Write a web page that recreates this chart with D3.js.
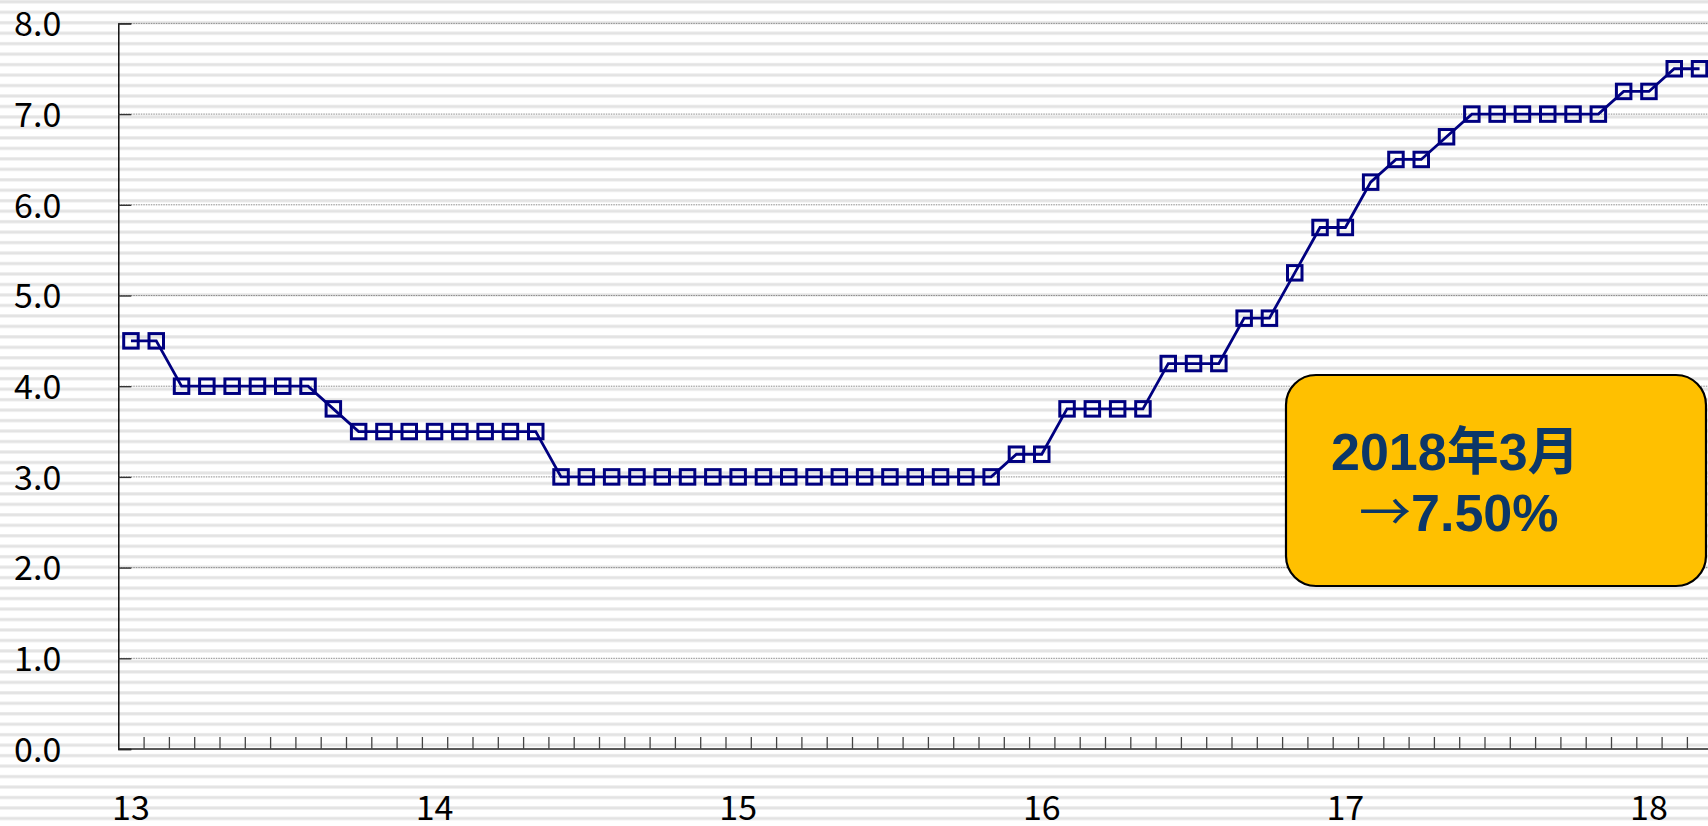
<!DOCTYPE html>
<meta charset="utf-8">
<script src="https://d3js.org/d3.v7.min.js"></script>
<style>
  body { margin: 0; background: #fff; }
</style>
<div id="my_dataviz"></div>
<script>
// monthly categories, Jan 2013 .. Mar 2018
var years = ["2013", "2014", "2015", "2016", "2017", "2018"];
var monthNames = ["01","02","03","04","05","06","07","08","09","10","11","12"];
var months = [];
years.forEach(function(y) { monthNames.forEach(function(m) { months.push(y + "-" + m); }); });
months = months.slice(0, 63);

// policy rate (%) per month
var rates = [
  4.50, 4.50, 4.00, 4.00, 4.00, 4.00, 4.00, 4.00, 3.75, 3.50, 3.50, 3.50,   // 2013
  3.50, 3.50, 3.50, 3.50, 3.50, 3.00, 3.00, 3.00, 3.00, 3.00, 3.00, 3.00,   // 2014
  3.00, 3.00, 3.00, 3.00, 3.00, 3.00, 3.00, 3.00, 3.00, 3.00, 3.00, 3.25,   // 2015
  3.25, 3.75, 3.75, 3.75, 3.75, 4.25, 4.25, 4.25, 4.75, 4.75, 5.25, 5.75,   // 2016
  5.75, 6.25, 6.50, 6.50, 6.75, 7.00, 7.00, 7.00, 7.00, 7.00, 7.00, 7.25,   // 2017
  7.25, 7.50, 7.50                                                         // 2018
];

var yearLabels = ["13", "14", "15", "16", "17", "18"];
var yTicks = [0, 1, 2, 3, 4, 5, 6, 7, 8];
var noteTitle = "2018年3月";
var noteArrow = "→", noteValue = "7.50%";

var width = 1708, height = 826;
var plotLeft = 118.3, plotBottom = 749, plotTop = 23.4, monthW = 25.3;

var svg = d3.select("#my_dataviz")
  .append("svg")
    .attr("width", width)
    .attr("height", height)
    .style("display", "block");

// striped background
var pat = svg.append("defs").append("pattern")
    .attr("id", "stripes")
    .attr("patternUnits", "userSpaceOnUse")
    .attr("width", 20)
    .attr("height", 10.47);
pat.append("rect").attr("width", 20).attr("height", 10.47).attr("fill", "#ffffff");
pat.append("rect").attr("y", 0.3).attr("width", 20).attr("height", 3).attr("fill", "#e3e3e3");

svg.append("rect")
    .attr("width", width)
    .attr("height", height)
    .attr("fill", "url(#stripes)");

// scales
var x = d3.scaleBand()
    .domain(months)
    .range([plotLeft, plotLeft + monthW * months.length])
    .padding(0);
var xi = d3.scaleLinear()
    .domain([0, months.length])
    .range([plotLeft, plotLeft + monthW * months.length]);
var y = d3.scaleLinear()
    .domain([0, 8])
    .range([plotBottom, plotTop]);

// gridlines
svg.append("g")
  .selectAll("line")
  .data(yTicks.filter(function(d) { return d > 0; }))
  .enter()
  .append("line")
    .attr("x1", plotLeft)
    .attr("x2", width)
    .attr("y1", function(d) { return y(d); })
    .attr("y2", function(d) { return y(d); })
    .attr("stroke", "#8a8a8a")
    .attr("stroke-width", 1)
    .attr("stroke-dasharray", "1.5,1");

// y axis (ticks point inward)
var yAxis = svg.append("g")
    .attr("transform", "translate(" + plotLeft + ",0)")
    .call(d3.axisLeft(y).tickValues(yTicks).tickSize(-13).tickPadding(57)
      .tickFormat(d3.format(".1f")));
yAxis.select(".domain").attr("stroke", "#000").attr("stroke-width", 1.4);
yAxis.selectAll(".tick line").attr("stroke", "#333").attr("stroke-width", 1.4);
yAxis.selectAll("text")
    .attr("fill", "#000")
    .style("font-family", "'Noto Sans CJK JP', 'Noto Sans', sans-serif")
    .style("font-size", "34px")
    .attr("dy", "0.36em");

// x axis: month ticks pointing inward
var xAxis = svg.append("g")
    .attr("transform", "translate(0," + plotBottom + ")")
    .call(d3.axisBottom(xi).tickValues(d3.range(1, months.length + 1)).tickSize(-12).tickFormat(""));
xAxis.select(".domain").attr("stroke", "#222").attr("stroke-width", 1.4)
    .attr("d", "M" + plotLeft + ",0H" + width);
xAxis.selectAll(".tick line").attr("stroke", "#444").attr("stroke-width", 1.3);

// year labels at January
var janMonths = months.filter(function(m) { return m.slice(5) === "01"; });
var xLab = svg.append("g")
    .attr("transform", "translate(0," + plotBottom + ")")
    .call(d3.axisBottom(x).tickValues(janMonths).tickSize(0).tickPadding(47)
      .tickFormat(function(d, i) { return yearLabels[i]; }));
xLab.select(".domain").remove();
xLab.selectAll("text")
    .attr("fill", "#000")
    .style("font-family", "'Noto Sans CJK JP', 'Noto Sans', sans-serif")
    .style("font-size", "34px")
    .attr("dy", "0.71em");

// line + square markers
var pts = months.map(function(m, i) { return { m: m, v: rates[i] }; });
var cx = function(d) { return x(d.m) + x.bandwidth() / 2; };

svg.append("path")
    .datum(pts)
    .attr("fill", "none")
    .attr("stroke", "#000080")
    .attr("stroke-width", 2.8)
    .attr("d", d3.line().x(cx).y(function(d) { return y(d.v); }));

var sq = 14.5;
svg.append("g")
  .selectAll("rect")
  .data(pts)
  .enter()
  .append("rect")
    .attr("x", function(d) { return cx(d) - sq / 2; })
    .attr("y", function(d) { return y(d.v) - sq / 2; })
    .attr("width", sq)
    .attr("height", sq)
    .attr("fill", "none")
    .attr("stroke", "#000080")
    .attr("stroke-width", 3);

// annotation box
var note = svg.append("g");
note.append("rect")
    .attr("x", 1286)
    .attr("y", 375)
    .attr("width", 420)
    .attr("height", 211)
    .attr("rx", 30)
    .attr("ry", 30)
    .attr("fill", "#ffc000")
    .attr("stroke", "#000")
    .attr("stroke-width", 2.2);

var noteFont = "'Liberation Sans', Arial, 'Noto Sans CJK JP', sans-serif";
note.append("text")
    .attr("x", 1331)
    .attr("y", 470)
    .attr("fill", "#0c3768")
    .style("font-family", noteFont)
    .style("font-weight", "bold")
    .style("font-size", "52px")
    .text(noteTitle);

var t2 = note.append("text")
    .attr("x", 1359)
    .attr("y", 531)
    .attr("fill", "#0c3768")
    .style("font-weight", "bold")
    .style("font-size", "52px");
t2.append("tspan")
    .style("font-family", "'Noto Sans CJK JP', sans-serif")
    .style("font-weight", "normal")
    .text(noteArrow);
t2.append("tspan")
    .style("font-family", noteFont)
    .text(noteValue);
</script>
